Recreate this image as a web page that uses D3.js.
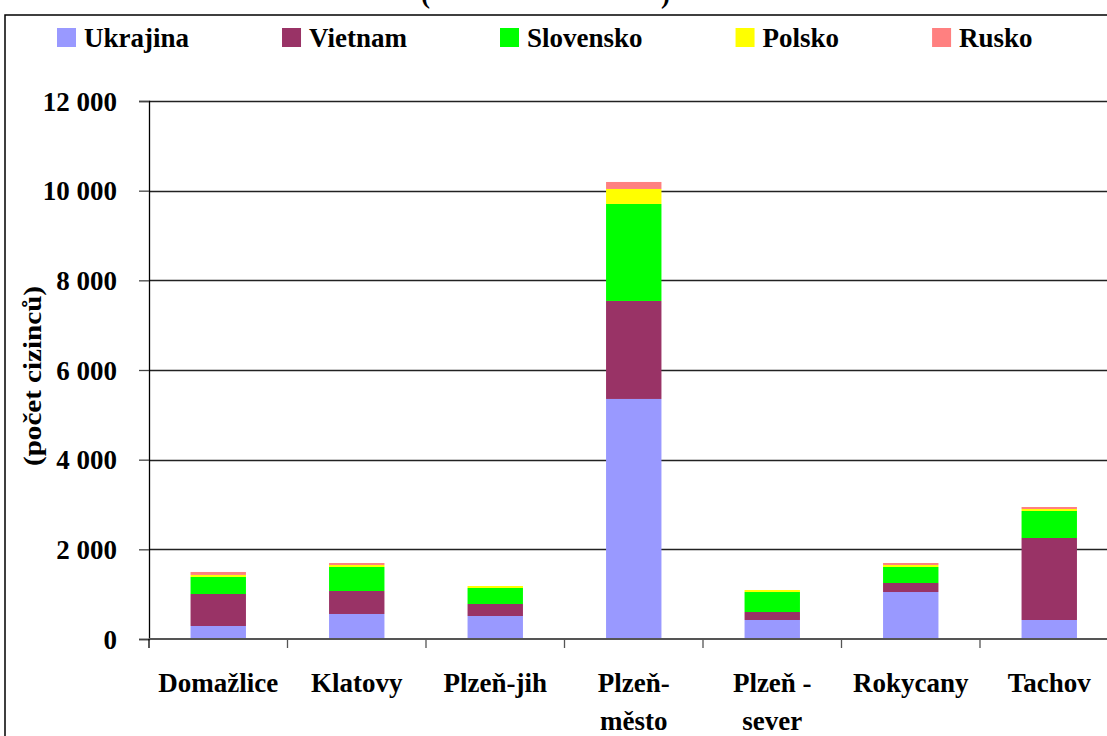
<!DOCTYPE html>
<html>
<head>
<meta charset="utf-8">
<script src="https://cdn.jsdelivr.net/npm/d3@7"></script>
<style>
  body { margin: 0; background: #fff; }
  svg { display: block; font-family: "Liberation Serif", "Times New Roman", Times, "DejaVu Serif", serif; font-weight: bold; }
  svg text { font-family: "Liberation Serif", "Times New Roman", Times, "DejaVu Serif", serif; }
</style>
</head>
<body>
<div id="chart"></div>
<script>
// data
const districts = ["Domažlice", "Klatovy", "Plzeň-jih", "Plzeň-město", "Plzeň - sever", "Rokycany", "Tachov"]
const districtLines = [["Domažlice"], ["Klatovy"], ["Plzeň-jih"], ["Plzeň-", "město"], ["Plzeň -", "sever"], ["Rokycany"], ["Tachov"]]
const countries = ["Ukrajina", "Vietnam", "Slovensko", "Polsko", "Rusko"]
const colors = ["#9999ff", "#993366", "#00ff00", "#ffff00", "#ff8080"]
const ukrajina  = [290, 558, 513, 5354, 424, 1048, 424]
const vietnam   = [714, 513, 268, 2186, 178, 201, 1829]
const slovensko = [380, 535, 357, 2163, 446, 357, 602]
const polsko    = [45, 45, 44, 335, 45, 45, 45]
const rusko     = [66, 44, 0, 156, 0, 44, 44]
const yTicks = [0, 2000, 4000, 6000, 8000, 10000, 12000]
const yTitle = "(počet cizinců)"

// 1. ACCESS DATA
const series = [ukrajina, vietnam, slovensko, polsko, rusko]
const table = districts.map((d, i) => {
    const row = { district: d }
    countries.forEach((c, j) => row[c] = series[j][i])
    return row
})
const stacked = d3.stack().keys(countries)(table)

// 2. DIMENSIONS
const dimensions = {
    width: 1107,
    height: 736,
    margin: { top: 101, left: 149, bottom: 97 },
    step: 138.5
}
dimensions.boundedHeight = dimensions.height - dimensions.margin.top - dimensions.margin.bottom

// 3. DRAW CANVAS
const wrapper = d3.select("#chart")
    .append("svg")
    .attr("width", dimensions.width)
    .attr("height", dimensions.height)

// outer frame (runs off the right and bottom edges)
wrapper.append("rect")
    .attr("x", 5)
    .attr("y", 15)
    .attr("width", dimensions.width + 20)
    .attr("height", dimensions.height + 20)
    .attr("fill", "none")
    .attr("stroke", "#000")
    .attr("stroke-width", 1.5)

// title, only the lower part of the brackets is in frame
wrapper.append("text").attr("x", 421).attr("y", 3).attr("font-size", 27).text("(")
wrapper.append("text").attr("x", 661).attr("y", 3).attr("font-size", 27).text(")")

const bounds = wrapper.append("g")
    .attr("transform", `translate(${dimensions.margin.left},${dimensions.margin.top})`)

// 4. CREATE SCALES
const xScale = d3.scaleBand()
    .domain(districts)
    .range([0, dimensions.step * districts.length])
    .padding(0)
const yScale = d3.scaleLinear()
    .domain([0, 12000])
    .range([dimensions.boundedHeight, 0])

// 5. PERIPHERALS (grid under bars)
bounds.append("g")
    .selectAll("line")
    .data(yTicks.filter(d => d > 0))
    .join("line")
    .attr("x1", 0)
    .attr("x2", xScale.range()[1])
    .attr("y1", d => Math.round(yScale(d)) + 0.5)
    .attr("y2", d => Math.round(yScale(d)) + 0.5)
    .attr("stroke", "#222")
    .attr("stroke-width", 1.3)

// 6. DRAW DATA
const barWidth = xScale.bandwidth() * 0.4
bounds.selectAll(".layer")
    .data(stacked)
    .join("g")
    .attr("class", "layer")
    .attr("fill", (d, i) => colors[i])
    .selectAll("rect")
    .data(d => d)
    .join("rect")
    .attr("x", d => xScale(d.data.district) + (xScale.bandwidth() - barWidth) / 2)
    .attr("y", d => yScale(d[1]))
    .attr("width", barWidth)
    .attr("height", d => yScale(d[0]) - yScale(d[1]))

// y axis
const fmt = d3.formatLocale({ decimal: ",", thousands: " ", grouping: [3], currency: ["", ""] }).format(",")
const yAxis = bounds.append("g")
    .call(d3.axisLeft(yScale).tickValues(yTicks).tickSize(10).tickPadding(22).tickFormat(fmt))
yAxis.attr("font-family", null).attr("font-size", null)
yAxis.select(".domain").attr("stroke", "#000").attr("stroke-width", 1.3)
yAxis.selectAll(".tick line").attr("stroke", "#444").attr("stroke-width", 1.3)
yAxis.selectAll(".tick text")
    .attr("font-size", 27)
    .attr("fill", "#000")
    .attr("dy", "0.34em")

wrapper.append("text")
    .attr("transform", `translate(41,${dimensions.margin.top + yScale(6000) + 6}) rotate(-90)`)
    .attr("text-anchor", "middle")
    .attr("font-size", 26)
    .attr("textLength", 180)
    .attr("lengthAdjust", "spacingAndGlyphs")
    .text(yTitle)

// x axis: baseline, boundary ticks and wrapped labels
const xAxis = bounds.append("g")
    .attr("transform", `translate(0,${dimensions.boundedHeight})`)
xAxis.append("line")
    .attr("x1", 0)
    .attr("x2", xScale.range()[1])
    .attr("stroke", "#555")
    .attr("stroke-width", 2)
xAxis.selectAll(".bound")
    .data(d3.range(districts.length + 1))
    .join("line")
    .attr("class", "bound")
    .attr("x1", i => i * xScale.step())
    .attr("x2", i => i * xScale.step())
    .attr("y1", 0)
    .attr("y2", 9)
    .attr("stroke", i => i === 0 ? "#000" : "#555")
    .attr("stroke-width", 1.3)
xAxis.selectAll(".label")
    .data(districts)
    .join("text")
    .attr("class", "label")
    .attr("text-anchor", "middle")
    .attr("font-size", 27)
    .attr("transform", d => `translate(${xScale(d) + xScale.bandwidth() / 2},53)`)
    .selectAll("tspan")
    .data((d, i) => districtLines[i])
    .join("tspan")
    .attr("x", 0)
    .attr("y", (d, i) => i * 38)
    .text(d => d)

// legend
const legend = wrapper.append("g").attr("font-size", 27)
let legendX = 57
countries.forEach((c, i) => {
    legend.append("rect")
        .attr("x", legendX)
        .attr("y", 28)
        .attr("width", 19)
        .attr("height", 19)
        .attr("fill", colors[i])
    const label = legend.append("text")
        .attr("x", legendX + 27)
        .attr("y", 47)
        .text(c)
    legendX += 27 + label.node().getComputedTextLength() + 93
})
</script>
</body>
</html>
